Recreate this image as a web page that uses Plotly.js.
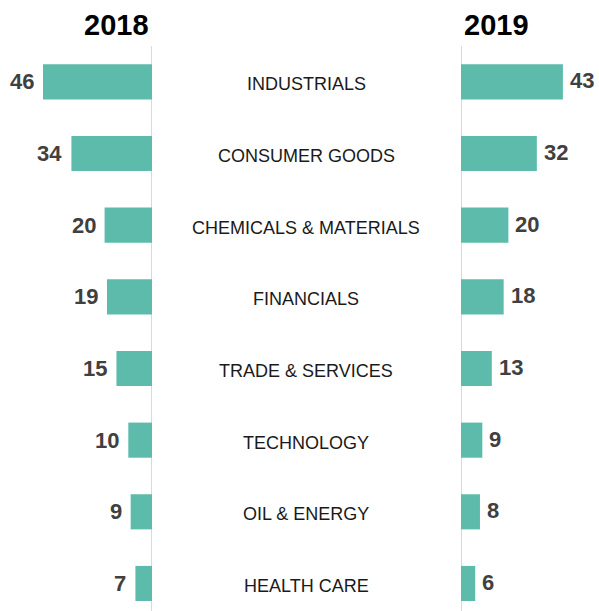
<!DOCTYPE html>
<html>
<head>
<meta charset="utf-8">
<script src="https://cdn.plot.ly/plotly-3.0.1.min.js"></script>
<style>html,body{margin:0;padding:0;background:#fff;}#chart{width:599px;height:611px;}</style>
</head>
<body>
<div id="chart"></div>
<script>
const categories = ["INDUSTRIALS", "CONSUMER GOODS", "CHEMICALS & MATERIALS", "FINANCIALS", "TRADE & SERVICES", "TECHNOLOGY", "OIL & ENERGY", "HEALTH CARE"];
const values2018 = [46, 34, 20, 19, 15, 10, 9, 7];
const values2019 = [43, 32, 20, 18, 13, 9, 8, 6];
const yearLabels = ["2018", "2019"];

(function () {
const W = 599, H = 611;
const pxPerUnit = 2.37;
const leftEdge = 152, rightEdge = 461;
const barColor = "#5cbbaa";
const font = "Liberation Sans, Arial, sans-serif";
const idx = categories.map((c, i) => i);

const traces = [
  {type: "bar", orientation: "h", x: values2018, y: idx, xaxis: "x", yaxis: "y",
   marker: {color: barColor}, width: 0.49, hoverinfo: "skip"},
  {type: "bar", orientation: "h", x: values2019, y: idx, xaxis: "x2", yaxis: "y",
   marker: {color: barColor}, width: 0.49, hoverinfo: "skip"}
];

const annotations = [];
values2018.forEach((v, i) => annotations.push({
  x: v, y: i, xref: "x", yref: "y", text: String(v), showarrow: false,
  xanchor: "right", xshift: -7, font: {family: font, size: 22, color: "#404040", weight: "bold"}
}));
values2019.forEach((v, i) => annotations.push({
  x: v, y: i, xref: "x2", yref: "y", text: String(v), showarrow: false,
  xanchor: "left", xshift: 5, yshift: 1, font: {family: font, size: 22, color: "#404040", weight: "bold"}
}));
categories.forEach((c, i) => annotations.push({
  x: 306 / W, y: i, xref: "paper", yref: "y", text: c, showarrow: false,
  xanchor: "center", yshift: -2.5, font: {family: font, size: 18, color: "#1a1a1a"}
}));
annotations.push({x: 151 / W, y: 1 - 25 / H, xref: "paper", yref: "paper", yanchor: "middle",
  text: yearLabels[0], showarrow: false, xanchor: "right",
  font: {family: font, size: 29, color: "#000", weight: "bold"}});
annotations.push({x: 462 / W, y: 1 - 25 / H, xref: "paper", yref: "paper", yanchor: "middle",
  text: yearLabels[1], showarrow: false, xanchor: "left",
  font: {family: font, size: 29, color: "#000", weight: "bold"}});

const topPx = 46;
const layout = {
  width: W, height: H,
  margin: {l: 0, r: 0, t: 0, b: 0, pad: 0},
  paper_bgcolor: "#fff", plot_bgcolor: "rgba(0,0,0,0)",
  showlegend: false,
  xaxis: {domain: [0, leftEdge / W], range: [leftEdge / pxPerUnit, 0],
    showgrid: false, zeroline: false, showticklabels: false, showline: false, fixedrange: true},
  xaxis2: {domain: [rightEdge / W, 1], range: [0, (W - rightEdge) / pxPerUnit],
    showgrid: false, zeroline: false, showticklabels: false, showline: false, fixedrange: true},
  yaxis: {domain: [0, 1 - topPx / H], range: [(H - 82) / 71.64, -0.5],
    showgrid: false, zeroline: false, showticklabels: false, showline: false, fixedrange: true},
  shapes: [
    {type: "line", xref: "x", yref: "paper", x0: 0, x1: 0, y0: 0, y1: 1 - topPx / H,
     line: {color: "#d9d9d9", width: 2}, layer: "below"},
    {type: "line", xref: "x2", yref: "paper", x0: 0, x1: 0, y0: 0, y1: 1 - topPx / H,
     line: {color: "#d9d9d9", width: 2}, layer: "below"}
  ],
  annotations: annotations
};

Plotly.newPlot("chart", traces, layout, {displayModeBar: false, staticPlot: true});
})();
</script>
</body>
</html>
